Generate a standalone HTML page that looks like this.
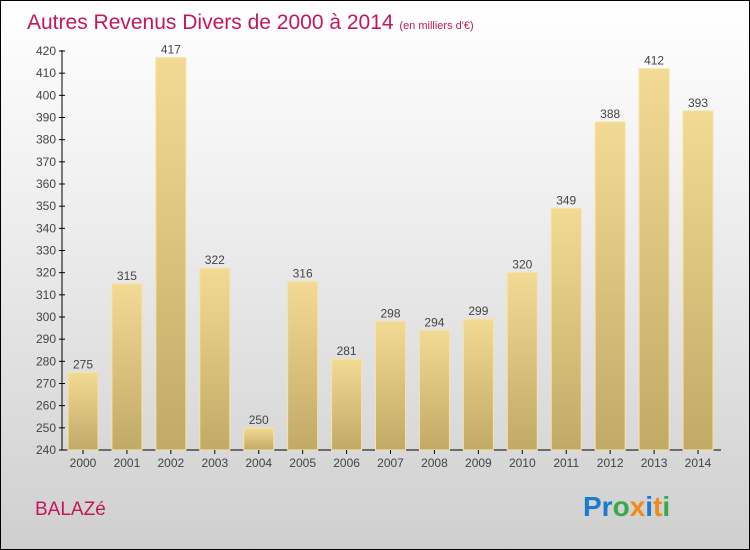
<!DOCTYPE html>
<html><head><meta charset="utf-8"><style>
body{margin:0}
#c{width:748px;height:548px;border:1px solid #000;background:linear-gradient(#fff,#f2f2f2 30%,#cfcfcf);position:relative;font-family:"Liberation Sans",sans-serif}
</style></head><body>
<div id="c">
<svg id="s" width="748" height="548" style="position:absolute;left:0;top:0">
<defs><linearGradient id="g" x1="0" y1="0" x2="0" y2="1"><stop offset="0" stop-color="#f3da94"/><stop offset="1" stop-color="#c1aa66"/></linearGradient></defs>
<text x="26" y="28" font-size="21" fill="#c2185b">Autres Revenus Divers de 2000 à 2014 <tspan font-size="11">(en milliers d'€)</tspan></text>
<text x="34" y="514" font-size="19" fill="#c2185b">BALAZé</text>
<text x="582" y="515" font-size="28" font-weight="bold"><tspan fill="#1a7bd1">Pr</tspan><tspan fill="#3aa84a">o</tspan><tspan fill="#f08a18">x</tspan><tspan fill="#1a7bd1">i</tspan><tspan fill="#f08a18">t</tspan><tspan fill="#3aa84a">i</tspan></text>
</svg>
</div>
<script>
const years=["2000","2001","2002","2003","2004","2005","2006","2007","2008","2009","2010","2011","2012","2013","2014"];
const values=[275,315,417,322,250,316,281,298,294,299,320,349,388,412,393];
const ticks=[240,250,260,270,280,290,300,310,320,330,340,350,360,370,380,390,400,410,420];
const s=document.getElementById('s');const NS="http://www.w3.org/2000/svg";
function y(v){return 449-(v-240)*(399/180);}
function x(i){return 82+i*43.93;}
function mk(t,a){const e=document.createElementNS(NS,t);for(const k in a)e.setAttribute(k,a[k]);s.appendChild(e);return e;}
const ax=mk('line',{x1:61,y1:49,x2:61,y2:449,stroke:'#000'});


const bx=mk('line',{x1:61,y1:449,x2:720,y2:449,stroke:'#000'});


ticks.forEach(t=>{
 mk('line',{x1:58,x2:64,y1:y(t),y2:y(t),stroke:'#000'});
 const l=mk('text',{x:55,y:y(t)+4,'text-anchor':'end','font-size':12,fill:'#444'});l.textContent=t;
 
 
});
values.forEach((v,i)=>{
 const r=mk('rect',{x:x(i)-15,y:y(v),width:30,height:449-y(v),fill:'url(#g)',stroke:'#f5e3a8','stroke-width':1});
 
 
 const t=mk('text',{x:x(i),y:y(v)-4,'text-anchor':'middle','font-size':12,fill:'#444'});t.textContent=v;
 
 
 mk('line',{x1:x(i),x2:x(i),y1:449,y2:453,stroke:'#000'});
 const xl=mk('text',{x:x(i),y:466,'text-anchor':'middle','font-size':12,fill:'#444'});xl.textContent=years[i];
 
 
});
</script>
</body></html>
